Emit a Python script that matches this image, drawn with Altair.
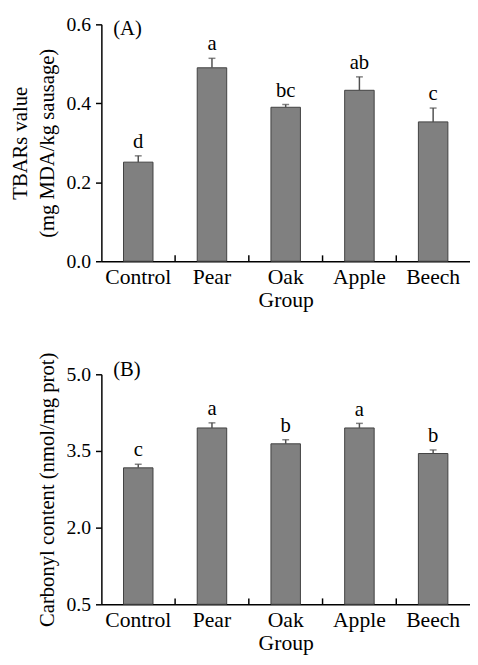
import altair as alt
import pandas as pd

groups = ["Control", "Pear", "Oak", "Apple", "Beech"]

tbars_mean = [0.251, 0.490, 0.390, 0.433, 0.353]
tbars_sd = [0.016, 0.024, 0.007, 0.034, 0.035]
tbars_letters = ["d", "a", "bc", "ab", "c"]

carb_mean = [3.17, 3.95, 3.64, 3.95, 3.45]
carb_sd = [0.07, 0.10, 0.08, 0.09, 0.07]
carb_letters = ["c", "a", "b", "a", "b"]

FONT = "Liberation Serif"


def panel(mean, sd, letters, tag, tag_y, ymin, ymax, yvals, ytitle, h):
    df = pd.DataFrame({"group": groups, "mean": mean, "sd": sd, "letter": letters})
    df["upper"] = df["mean"] + df["sd"]
    xenc = alt.X(
        "group:N", sort=groups,
        scale=alt.Scale(paddingInner=0, paddingOuter=0),
        axis=alt.Axis(title="Group", labelAngle=0, ticks=False, labelFontSize=22,
                      titleFontSize=22, labelPadding=6, titlePadding=2,
                      titleFontWeight="normal", domainColor="black", domainWidth=1.5,
                      labelColor="black", titleColor="black", labelFont=FONT,
                      titleFont=FONT),
    )
    xplain = alt.X("group:N", sort=groups)
    yscale = alt.Scale(domain=[ymin, ymax], zero=False, nice=False)
    yaxis = alt.Axis(title=ytitle, values=yvals, format=".1f", grid=False, tickSize=6,
                     tickColor="black", tickWidth=1.5, domainColor="black",
                     domainWidth=1.5, labelFontSize=20, titleFontSize=21,
                     labelFont=FONT, titleFont=FONT, titleFontWeight="normal",
                     labelColor="black", titleColor="black", labelPadding=5,
                     titlePadding=9, titleLineHeight=27)
    base = alt.Chart(df)
    bars = base.mark_bar(width=alt.RelativeBandSize(0.4), color="#808080",
                         stroke="#404040", strokeWidth=1).encode(
        x=xenc, y=alt.Y("mean:Q", scale=yscale, axis=yaxis), y2=alt.datum(ymin))
    err = base.mark_rule(color="#505050", strokeWidth=1.5).encode(
        x=xplain, y="mean:Q", y2="upper:Q")
    cap = base.mark_tick(color="#505050", thickness=1.5, size=7).encode(
        x=xplain, y="upper:Q")
    txt = base.mark_text(baseline="alphabetic", dy=-8, fontSize=21, font=FONT,
                         color="black").encode(x=xplain, y="upper:Q", text="letter:N")
    xticks = base.transform_filter(alt.datum.group != "Control").mark_rule(
        color="black", strokeWidth=1.5).encode(
        x=alt.X("group:N", sort=groups, bandPosition=0),
        y=alt.value(h - 6), y2=alt.value(h))
    lab = alt.Chart(pd.DataFrame({"tag": [tag]})).mark_text(
        align="left", baseline="middle", fontSize=21, font=FONT, color="black").encode(
        x=alt.value(12), y=alt.value(tag_y), text="tag:N")
    return alt.layer(bars, err, cap, txt, xticks, lab).properties(width=375, height=h)


a = panel(tbars_mean, tbars_sd, tbars_letters, "(A)", 5, 0.0, 0.6, [0.0, 0.2, 0.4, 0.6],
          ["TBARs value", "(mg MDA/kg sausage)"], 241)
b = panel(carb_mean, carb_sd, carb_letters, "(B)", -4, 0.5, 5.0, [0.5, 2.0, 3.5, 5.0],
          "Carbonyl content (nmol/mg prot)", 234)

chart = alt.vconcat(a, b, spacing=42).configure_view(stroke=None).properties(
    padding={"left": 2, "top": 1, "right": 0, "bottom": 0})

chart.save("out.html", embed_options={"renderer": "svg", "actions": False})
